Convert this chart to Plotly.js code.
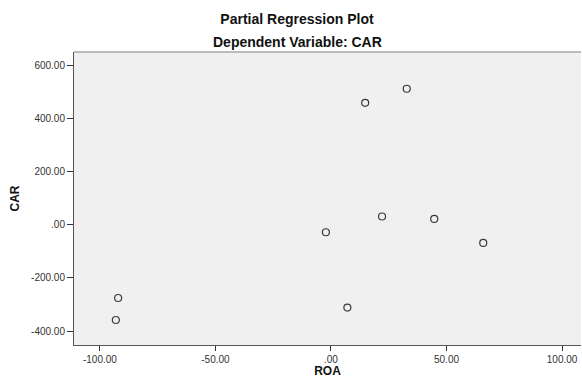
<!DOCTYPE html>
<html>
<head>
<meta charset="utf-8">
<script src="https://cdn.plot.ly/plotly-3.0.1.min.js"></script>
<style>html,body{margin:0;padding:0;background:#fff;}#chart{width:582px;height:378px;}</style>
</head>
<body>
<div id="chart"></div>
<script>
const roa = [-92.1, -93.1, -2.2, 7.1, 14.8, 22.1, 32.8, 44.7, 65.9];
const car = [-275.8, -358.7, -28.3, -312.0, 458.9, 30.9, 511.7, 21.9, -68.6];
const xTickVals = [-100, -50, 0, 50, 100];
const xTickText = ['-100.00', '-50.00', '.00', '50.00', '100.00'];
const yTickVals = [-400, -200, 0, 200, 400, 600];
const yTickText = ['-400.00', '-200.00', '.00', '200.00', '400.00', '600.00'];

const font = 'Arial, "Liberation Sans", sans-serif';

const trace = {
  x: roa, y: car, type: 'scatter', mode: 'markers',
  marker: {symbol: 'circle-open', size: 7, color: '#3a3a3a', line: {width: 1.2, color: '#3a3a3a'}},
  hoverinfo: 'skip'
};

const layout = {
  width: 582, height: 378,
  margin: {l: 74, r: 1, t: 52, b: 33},
  paper_bgcolor: '#ffffff',
  plot_bgcolor: '#f0f0f0',
  showlegend: false,
  font: {family: font, color: '#333'},
  title: {
    text: '<b>Partial Regression Plot</b>',
    font: {family: font, size: 14, color: '#111'},
    x: 297/582, xanchor: 'center', xref: 'container',
    y: 1 - 19/378, yanchor: 'middle', yref: 'container'
  },
  annotations: [{
    text: '<b>Dependent Variable: CAR</b>',
    font: {family: font, size: 14, color: '#111'},
    xref: 'paper', yref: 'paper', showarrow: false,
    x: (297-74)/507, xanchor: 'center',
    y: 1 + (52-41.5)/293, yanchor: 'middle'
  }],
  xaxis: {
    range: [-111.2, 108.2],
    tickvals: xTickVals, ticktext: xTickText,
    ticks: 'outside', ticklen: 5, tickcolor: '#333', tickwidth: 1,
    tickfont: {family: font, size: 10, color: '#333'},
    showgrid: false, zeroline: false,
    showline: true, linecolor: '#555', linewidth: 1,
    title: {text: '<b>ROA</b>', font: {family: font, size: 12, color: '#111'}, standoff: 5},
    fixedrange: true
  },
  yaxis: {
    range: [-452.7, 650],
    tickvals: yTickVals, ticktext: yTickText,
    ticks: 'outside', ticklen: 6, tickcolor: '#333', tickwidth: 1,
    tickfont: {family: font, size: 10, color: '#333'},
    showgrid: false, zeroline: false,
    showline: true, linecolor: '#555', linewidth: 1,
    title: {text: '<b>CAR</b>', font: {family: font, size: 12, color: '#111'}, standoff: 8},
    fixedrange: true
  },
  shapes: [{
    type: 'line', xref: 'paper', yref: 'paper', x0: 0, x1: 1, y0: 1, y1: 1,
    line: {color: '#a8a8a8', width: 1.5}
  }]
};

Plotly.newPlot('chart', [trace], layout, {staticPlot: true, displayModeBar: false});
</script>
</body>
</html>
